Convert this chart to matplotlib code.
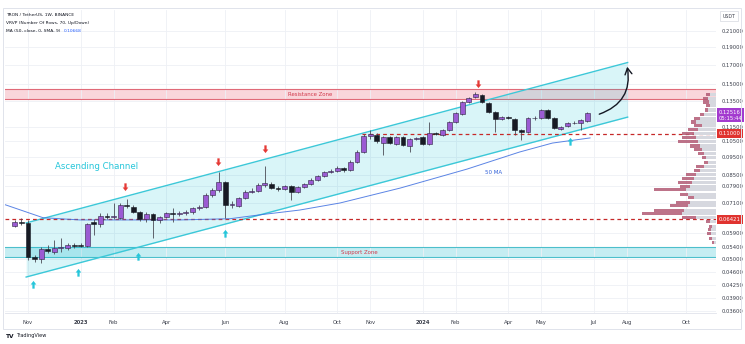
import numpy as np
import pandas as pd
import matplotlib
matplotlib.use("Agg")
import matplotlib.pyplot as plt
import matplotlib.dates as mdates
import matplotlib.transforms as mtransforms
from matplotlib.patches import Rectangle
from matplotlib.path import Path

# TRX/USDT weekly candles (Binance), first bar = week of 2022-10-24
opens = [0.0615, 0.0631, 0.0628, 0.0506, 0.0500, 0.0532, 0.0522, 0.0536, 0.0536, 0.0546,
         0.0546, 0.0542, 0.0631, 0.0623, 0.0656, 0.0652, 0.0648, 0.0702, 0.0694, 0.0672,
         0.0644, 0.0664, 0.0639, 0.0652, 0.0668, 0.0664, 0.0668, 0.0672, 0.0689, 0.0694,
         0.0748, 0.0772, 0.0811, 0.0702, 0.0698, 0.0734, 0.0762, 0.0767, 0.0796, 0.0801,
         0.0781, 0.0776, 0.0791, 0.0762, 0.0786, 0.0801, 0.0822, 0.0843, 0.0864, 0.0870,
         0.0886, 0.0875, 0.0920, 0.0980, 0.1084, 0.1091, 0.1037, 0.1077, 0.1031, 0.1077,
         0.1018, 0.1064, 0.1077, 0.1031, 0.1105, 0.1091, 0.1126, 0.1184, 0.1245, 0.1343,
         0.1386, 0.1404, 0.1334, 0.1261, 0.1207, 0.1222, 0.1207, 0.1126, 0.1112, 0.1214,
         0.1214, 0.1277, 0.1214, 0.1133, 0.1155, 0.1177, 0.1177, 0.1192]
highs = [0.0638, 0.0648, 0.0640, 0.0512, 0.0539, 0.0546, 0.0563, 0.0570, 0.0553, 0.0553,
         0.0553, 0.0627, 0.0644, 0.0668, 0.0668, 0.0711, 0.0711, 0.0729, 0.0702, 0.0676,
         0.0672, 0.0668, 0.0656, 0.0672, 0.0689, 0.0676, 0.0680, 0.0694, 0.0702, 0.0756,
         0.0781, 0.0864, 0.0816, 0.0720, 0.0740, 0.0772, 0.0781, 0.0806, 0.0900, 0.0811,
         0.0791, 0.0796, 0.0796, 0.0791, 0.0806, 0.0830, 0.0850, 0.0870, 0.0880, 0.0895,
         0.0890, 0.0930, 0.0990, 0.1098, 0.1126, 0.1105, 0.1084, 0.1084, 0.1084, 0.1084,
         0.1071, 0.1077, 0.1084, 0.1184, 0.1112, 0.1133, 0.1192, 0.1261, 0.1351, 0.1386,
         0.1430, 0.1412, 0.1343, 0.1269, 0.1230, 0.1230, 0.1214, 0.1133, 0.1222, 0.1230,
         0.1285, 0.1285, 0.1222, 0.1155, 0.1184, 0.1192, 0.1207, 0.1261]
lows = [0.0610, 0.0620, 0.0497, 0.0491, 0.0488, 0.0519, 0.0516, 0.0522, 0.0529, 0.0536,
        0.0539, 0.0539, 0.0581, 0.0610, 0.0644, 0.0644, 0.0644, 0.0689, 0.0668, 0.0636,
        0.0631, 0.0570, 0.0627, 0.0648, 0.0631, 0.0656, 0.0660, 0.0664, 0.0680, 0.0689,
        0.0740, 0.0762, 0.0648, 0.0689, 0.0694, 0.0729, 0.0757, 0.0762, 0.0786, 0.0776,
        0.0767, 0.0772, 0.0724, 0.0757, 0.0781, 0.0796, 0.0816, 0.0836, 0.0858, 0.0864,
        0.0864, 0.0870, 0.0915, 0.0975, 0.1064, 0.1037, 0.0962, 0.1031, 0.1024, 0.1018,
        0.0980, 0.1057, 0.1024, 0.1024, 0.1091, 0.1084, 0.1119, 0.1177, 0.1237, 0.1334,
        0.1377, 0.1334, 0.1253, 0.1112, 0.1199, 0.1207, 0.1091, 0.1057, 0.1105, 0.1199,
        0.1207, 0.1207, 0.1133, 0.1126, 0.1147, 0.1169, 0.1126, 0.1184]
closes = [0.0631, 0.0628, 0.0506, 0.0500, 0.0532, 0.0526, 0.0536, 0.0539, 0.0546, 0.0542,
          0.0542, 0.0623, 0.0623, 0.0656, 0.0652, 0.0656, 0.0702, 0.0698, 0.0672, 0.0644,
          0.0664, 0.0639, 0.0652, 0.0668, 0.0664, 0.0668, 0.0672, 0.0689, 0.0694, 0.0748,
          0.0772, 0.0811, 0.0702, 0.0706, 0.0734, 0.0762, 0.0767, 0.0796, 0.0806, 0.0781,
          0.0776, 0.0791, 0.0762, 0.0786, 0.0801, 0.0822, 0.0843, 0.0864, 0.0870, 0.0886,
          0.0875, 0.0920, 0.0980, 0.1084, 0.1098, 0.1050, 0.1077, 0.1037, 0.1077, 0.1024,
          0.1064, 0.1071, 0.1031, 0.1105, 0.1098, 0.1126, 0.1184, 0.1253, 0.1343, 0.1377,
          0.1412, 0.1343, 0.1261, 0.1207, 0.1222, 0.1214, 0.1126, 0.1112, 0.1214, 0.1218,
          0.1277, 0.1214, 0.1140, 0.1147, 0.1177, 0.1180, 0.1199, 0.12516]

# 50-week SMA as drawn on the chart
ma_dates = ['2022-10-11', '2022-11-23', '2023-01-01', '2023-02-24', '2023-04-18',
            '2023-06-10', '2023-07-12', '2023-08-23', '2023-10-05', '2023-12-08',
            '2024-02-17', '2024-04-13', '2024-05-18', '2024-06-27']
ma_values = [0.0707, 0.0648, 0.0639, 0.0639, 0.0639, 0.0644, 0.0660, 0.0680, 0.0711,
             0.0781, 0.0880, 0.0980, 0.1037, 0.1071]

# channel, zones, levels
chan_dates = ['2022-11-05', '2024-08-06']
chan_upper = [0.0627, 0.1722]
chan_lower = [0.0446, 0.1221]
resistance = (0.1366, 0.1455)
support = (0.0505, 0.0538)
level_low = 0.06421
level_high = 0.11000
last_price = 0.12516
ma_last = 0.10668

# touch markers
red_dates = ['2023-02-18', '2023-05-28', '2023-07-17', '2024-02-29']
red_prices = [0.0781, 0.0914, 0.0993, 0.1495]
cyan_dates = ['2022-11-12', '2022-12-30', '2023-03-04', '2023-06-05', '2024-06-06']
cyan_prices = [0.0430, 0.0463, 0.0512, 0.0592, 0.1057]

# volume profile rows (up / down volume)
vp_rows = [0.1412, 0.1377, 0.1343, 0.1310, 0.1277, 0.1245, 0.1214, 0.1184, 0.1155, 0.1126,
           0.1098, 0.1071, 0.1044, 0.1018, 0.0993, 0.0968, 0.0944, 0.0920, 0.0897, 0.0875,
           0.0853, 0.0832, 0.0811, 0.0791, 0.0772, 0.0752, 0.0734, 0.0715, 0.0698, 0.0680,
           0.0664, 0.0648, 0.0631, 0.0615, 0.0600, 0.0585, 0.0570, 0.0556]
vp_up = [6, 8, 7, 6, 8, 12, 16, 20, 14, 18, 22, 20, 18, 16, 14, 12, 10, 8, 12, 16,
         20, 22, 24, 26, 30, 28, 22, 26, 28, 32, 34, 20, 6, 4, 5, 5, 4, 2]
vp_down = [4, 5, 6, 4, 3, 4, 6, 5, 8, 10, 12, 14, 20, 10, 8, 6, 4, 4, 8, 6,
           10, 12, 14, 10, 32, 8, 6, 14, 18, 30, 40, 14, 4, 3, 3, 4, 3, 2]

y_ticks = [0.21, 0.19, 0.17, 0.15, 0.135, 0.115, 0.105, 0.095, 0.085, 0.079, 0.071,
           0.059, 0.054, 0.050, 0.046, 0.0425, 0.039, 0.036]
x_tick_dates = ['2022-11-07', '2023-01-02', '2023-02-06', '2023-04-03', '2023-06-05',
                '2023-08-07', '2023-10-02', '2023-11-06', '2024-01-01', '2024-02-05',
                '2024-04-01', '2024-05-06', '2024-07-01', '2024-08-05', '2024-10-07']
x_tick_labels = ['Nov', '2023', 'Feb', 'Apr', 'Jun', 'Aug', 'Oct', 'Nov', '2024', 'Feb',
                 'Apr', 'May', 'Jul', 'Aug', 'Oct']

W, H = 745, 344


def box(l, t, r, b):
    return [l / W, 1 - b / H, (r - l) / W, (b - t) / H]


def d(s):
    return mdates.date2num(pd.to_datetime(s))


fig = plt.figure(figsize=(W / 100, H / 100), dpi=100)
fig.patch.set_facecolor('white')
ax = fig.add_axes(box(5, 10, 716, 313))

ax.set_yscale('log')
ylim = (0.03556, 0.2397)
ax.set_ylim(*ylim)
ax.set_xlim(d('2022-10-13 12:00'), d('2024-11-08'))

ax.yaxis.set_minor_locator(matplotlib.ticker.NullLocator())
ax.set_yticks(y_ticks)
ax.set_yticklabels([f'{v:.5f}' for v in y_ticks])
ax.yaxis.tick_right()
ax.tick_params(axis='y', length=0, pad=4, labelsize=3.8, labelcolor='#3a3e4a')
ax.set_xticks(d(x_tick_dates))
ax.set_xticklabels(x_tick_labels)
ax.tick_params(axis='x', length=0, pad=5, labelsize=3.8, labelcolor='#3a3e4a')
for lab in ax.get_xticklabels():
    if lab.get_text().isdigit():
        lab.set_fontweight('bold')
ax.grid(True, color='#eef0f5', lw=0.6)
ax.set_axisbelow(True)
for side in ['top', 'left', 'right']:
    ax.spines[side].set_visible(False)
ax.spines['bottom'].set_color('#e0e3eb')
ax.spines['bottom'].set_linewidth(0.6)

# zones
ax.axhspan(*resistance, color='#f8c9cf', alpha=0.75, lw=0, zorder=0.5)
for v in resistance:
    ax.axhline(v, color='#e06a78', lw=0.8, zorder=0.6)
ax.axhspan(*support, color='#7fd8e4', alpha=0.45, lw=0, zorder=0.5)
for v in support:
    ax.axhline(v, color='#4cbfcc', lw=0.8, zorder=0.6)

# ascending channel
cx = d(chan_dates)
ax.fill_between(cx, chan_lower, chan_upper, color='#00bcd4', alpha=0.15, lw=0, zorder=1)
ax.plot(cx, chan_upper, color='#3cc8d8', lw=1.0, zorder=2)
ax.plot(cx, chan_lower, color='#3cc8d8', lw=1.0, zorder=2)

# key levels
ax.axhline(level_low, color='#c62828', lw=0.9, ls=(0, (3, 2.5)), zorder=2)
ax.hlines(level_high, d('2023-10-28'), d('2024-11-08'), color='#c62828', lw=0.9,
          ls=(0, (3, 2.5)), zorder=2)

# moving average
ax.plot(d(ma_dates), ma_values, color='#3f6fe0', lw=0.7, alpha=0.85, zorder=2.5)

# candles
dates = pd.date_range('2022-10-24', periods=len(opens), freq='W-MON')
x = mdates.date2num(dates)
o, h, l, c = map(np.array, (opens, highs, lows, closes))
up = c >= o
ax.vlines(x, l, h, color='#4a4b55', lw=0.6, zorder=3)
ax.bar(x[up], (c - o)[up], bottom=o[up], width=5.2, color='#9b5bd3',
       edgecolor='#2d2240', lw=0.4, zorder=4)
ax.bar(x[~up], (o - c)[~up], bottom=c[~up], width=5.2, color='#171a24',
       edgecolor='#171a24', lw=0.4, zorder=4)

# arrow markers
down_arrow = Path([(-0.22, 1.0), (0.22, 1.0), (0.22, 0.2), (0.55, 0.2), (0.0, -0.5),
                   (-0.55, 0.2), (-0.22, 0.2), (-0.22, 1.0)])
up_arrow = Path([(px, -py) for px, py in down_arrow.vertices])
ax.scatter(d(red_dates), red_prices, marker=down_arrow, s=55, color='#e53935', lw=0, zorder=6)
ax.scatter(d(cyan_dates), cyan_prices, marker=up_arrow, s=55, color='#26c6da', lw=0, zorder=6)

# projected move
ax.annotate('', xy=(d('2024-08-05'), 0.1706), xytext=(d('2024-07-04'), 0.1237),
            arrowprops=dict(arrowstyle='->,head_length=0.45,head_width=0.25',
                            connectionstyle='arc3,rad=0.45', color='#131722', lw=1.0),
            zorder=7)

# labels
ax.text(d('2023-01-19'), 0.0897, 'Ascending Channel', color='#26c6da', fontsize=6.2,
        ha='center', va='center', zorder=7)
ax.text(d('2023-09-03'), 0.1410, 'Resistance Zone', color='#d23a4c', fontsize=3.9,
        ha='center', va='center', zorder=7)
ax.text(d('2023-10-26'), 0.0521, 'Support Zone', color='#d23a4c', fontsize=3.9,
        ha='center', va='center', zorder=7)
ax.text(d('2024-03-16'), 0.0864, '50 MA', color='#2f5fd8', fontsize=4, ha='center',
        va='center', zorder=7)

# volume profile, drawn from the right edge of the price pane
vp = fig.add_axes(box(5, 10, 716, 313))
vp.set_yscale('log')
vp.set_ylim(*ylim)
vp.set_xlim(711, 0)
vp.axis('off')
rows = np.array(vp_rows)
vp.barh(rows, vp_up, height=rows * 0.019, color='#d6d8df', lw=0)
vp.barh(rows, vp_down, left=vp_up, height=rows * 0.019, color='#b25b75', alpha=0.85, lw=0)

# price tags on the axis
tr = mtransforms.blended_transform_factory(ax.transAxes, ax.transData)
tag = dict(fontsize=3.8, color='white', ha='left', va='center', zorder=10)
ax.text(1.004, level_high, '0.11000', transform=tr,
        bbox=dict(boxstyle='square,pad=0.35', fc='#e0332f', ec='none'), **tag)
ax.text(1.004, level_low, '0.06421', transform=tr,
        bbox=dict(boxstyle='square,pad=0.35', fc='#e0332f', ec='none'), **tag)
ax.text(1.004, 0.1234, f'{last_price:.5f}\n05:15:44', transform=tr, linespacing=1.1,
        bbox=dict(boxstyle='square,pad=0.35', fc='#a33bcf', ec='none'), **tag)

# header
fig.text(6 / W, 1 - 15.5 / H, 'TRON / TetherUS, 1W, BINANCE', fontsize=3.2,
         color='#131722', va='center')
fig.text(6 / W, 1 - 23.3 / H, 'VRVP (Number Of Rows, 70, Up/Down)', fontsize=3.2,
         color='#131722', va='center')
fig.text(6 / W, 1 - 30.5 / H, 'MA (50, close, 0, SMA, 9)', fontsize=3.2,
         color='#131722', va='center')
fig.text(64 / W, 1 - 30.5 / H, f'{ma_last:.5f}', fontsize=3.2, color='#2962ff', va='center')
fig.text(729 / W, 1 - 16 / H, 'USDT', fontsize=3.4, color='#3a3e4a', ha='center',
         va='center', bbox=dict(boxstyle='square,pad=0.5', fc='white', ec='#d6d9e0', lw=0.5))

# outer frame and footer
fig.add_artist(Rectangle((3 / W, 1 - 329 / H), 738 / W, 321 / H, transform=fig.transFigure,
                         fill=False, ec='#e0e3eb', lw=0.7))
fig.text(6 / W, 1 - 336 / H, 'TV', fontsize=4.2, fontweight='bold', color='#131722',
         va='center')
fig.text(16 / W, 1 - 336 / H, 'TradingView', fontsize=3.6, color='#131722', va='center')

fig.savefig('out.png', dpi=100)
